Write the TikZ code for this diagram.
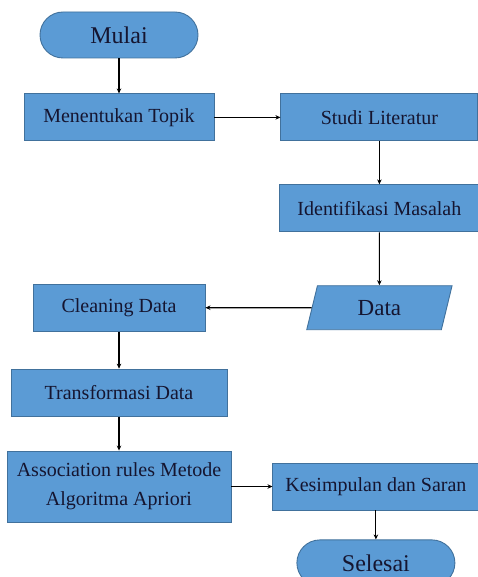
\documentclass[tikz,border=0pt]{standalone}
\usepackage{fontspec}
\setmainfont{Liberation Serif}
\newfontfamily\flowfont{Liberation Serif}
\usetikzlibrary{arrows.meta,positioning,shapes.geometric}
\definecolor{BoxBlue}{HTML}{5B9BD5}
\definecolor{EdgeBlue}{HTML}{41719C}
\definecolor{InkNavy}{HTML}{151530}

\begin{document}
\begin{tikzpicture}[
  font=\flowfont\fontsize{20}{29}\selectfont,
  box/.style={draw=EdgeBlue, line width=0.9pt, fill=BoxBlue, text=InkNavy, align=center, minimum height=47pt, inner sep=2pt},
  terminal/.style={box, rounded corners=23pt, minimum height=46pt, minimum width=158pt, font=\flowfont\fontsize{24}{28}\selectfont},
  iobox/.style={box, trapezium, trapezium left angle=78, trapezium right angle=102, trapezium stretches=true, minimum width=146pt, minimum height=44pt, font=\flowfont\fontsize{23}{27}\selectfont},
  flow/.style={line width=1.1pt, -{Stealth[length=5pt, width=4.5pt]}}
]
\useasboundingbox (0,0) rectangle (478pt,-577pt);

\node[terminal] (mulai) at (119pt,-35pt) {Mulai};
\node[box, minimum width=190pt, below=35pt of mulai] (topik) {Menentukan Topik};
\node[box, minimum width=197pt, right=66pt of topik] (studi) {Studi Literatur};
\node[box, minimum width=199pt, below=43pt of studi] (ident) {Identifikasi Masalah};
\node[iobox, below=53pt of ident] (data) {Data};
\node[box, minimum width=172pt] (clean) at (topik |- data) {Cleaning Data};
\node[box, minimum width=216pt, below=37pt of clean] (trans) {Transformasi Data};
\node[box, minimum width=224pt, minimum height=71pt, below=34pt of trans] (assoc) {Association rules Metode\\Algoritma Apriori};
\node[box, minimum width=206pt, right=41pt of assoc] (kesim) {Kesimpulan dan Saran};
\node[terminal, below=29pt of kesim] (selesai) {Selesai};

\draw[flow] (mulai) -- (topik);
\draw[flow] (topik) -- (studi);
\draw[flow] (studi) -- (ident);
\draw[flow] (ident) -- (data);
\draw[flow] (data) -- (clean);
\draw[flow] (clean) -- (trans);
\draw[flow] (trans) -- (assoc);
\draw[flow] (assoc) -- (kesim);
\draw[flow] (kesim) -- (selesai);

\end{tikzpicture}
\end{document}
